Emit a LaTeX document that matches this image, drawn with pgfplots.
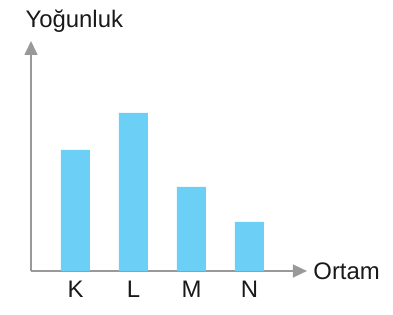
\documentclass[border=0pt]{standalone}
\usepackage{pgfplots}
\pgfplotsset{compat=1.18}
\usepackage{fontspec}
\setmainfont{Liberation Sans}
\usetikzlibrary{arrows.meta}
\definecolor{barblue}{HTML}{6BCFF6}
\definecolor{axisgray}{HTML}{999999}
\begin{document}
\begin{tikzpicture}[x=1bp,y=1bp]
\path[use as bounding box] (0,0) rectangle (393,315);
\begin{axis}[
  at={(31bp,44bp)}, anchor=south west,
  x=58bp, y=1bp,
  xmin=-0.767, xmax=3.99,
  ymin=0, ymax=230,
  axis lines=left,
  axis line style={axisgray, line width=1.6pt, -{Triangle[length=14bp,width=13bp]}},
  xtick=data,
  xticklabels={K,L,M,N},
  major tick length=0pt,
  ytick=\empty,
  xticklabel style={font=\fontsize{24}{28}\selectfont, text=black!90, yshift=-7bp},
  clip=false,
]
\addplot[ybar, bar width=29bp, fill=barblue, draw=none] coordinates {
  (0,121) (1,158) (2,84) (3,49)
};
\node[anchor=base west, font=\fontsize{24}{28}\selectfont, text=black!90]
  at (rel axis cs:0,1) [xshift=-9bp, yshift=14bp] {Yoğunluk};
\node[anchor=west, font=\fontsize{24}{28}\selectfont, text=black!90]
  at (rel axis cs:1,0) [xshift=3bp] {Ortam};
\end{axis}
\end{tikzpicture}
\end{document}
